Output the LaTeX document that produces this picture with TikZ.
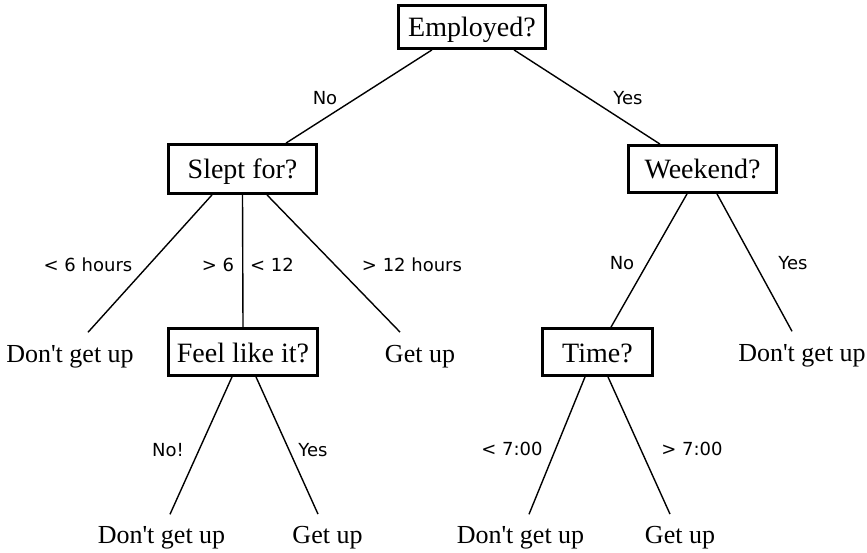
\documentclass[tikz,border=0pt]{standalone}
\usepackage{fontspec}
\setmainfont{Liberation Serif}
\newfontfamily\labelfont{DejaVu Sans}
\begin{document}
\begin{tikzpicture}[x=1pt,y=-1pt,
  qbox/.style={draw, line width=2.8pt, inner sep=0pt, text height=20pt, text depth=0pt,
    font=\fontsize{28}{30}\selectfont},
  leaf/.style={anchor=base, inner sep=0pt, font=\fontsize{26}{28}\selectfont},
  lab/.style={inner sep=0pt, font=\labelfont\fontsize{18}{20}\selectfont},
  branch/.style={line width=1.4pt}]
  \fill[white] (0,0) rectangle (867,553);
  \useasboundingbox (0,0) rectangle (867,553);

  % question boxes
  \node[qbox, minimum width=147pt, minimum height=43pt] (emp) at (472,27) {Employed?};
  \node[qbox, minimum width=148pt, minimum height=49pt] (slept) at (242.5,169) {Slept for?};
  \node[qbox, minimum width=148pt, minimum height=47pt] (week) at (702.5,169) {Weekend?};
  \node[qbox, minimum width=149pt, minimum height=47pt] (feel) at (243,352) {Feel like it?};
  \node[qbox, minimum width=110pt, minimum height=47pt] (time) at (597.5,352) {Time?};

  % outcomes
  \node[leaf] (l1) at (70,362) {Don\textquotesingle t get up};
  \node[leaf] (g1) at (420,362) {Get up};
  \node[leaf] (l2) at (802,361) {Don\textquotesingle t get up};
  \node[leaf] (l3) at (161.5,543) {Don\textquotesingle t get up};
  \node[leaf] (g2) at (327.5,543) {Get up};
  \node[leaf] (l4) at (520.5,543) {Don\textquotesingle t get up};
  \node[leaf] (g3) at (680,543) {Get up};

  % branches
  \draw[branch] ([xshift=-40pt]emp.south) -- ([xshift=43.5pt]slept.north);
  \draw[branch] ([xshift=42pt]emp.south) -- ([xshift=-42.5pt]week.north);
  \draw[branch] ([xshift=-30.5pt]slept.south) -- ([xshift=18pt,yshift=12.5pt]l1.north);
  \draw[branch] (slept.south) -- (feel.north);
  \draw[branch] ([xshift=24.5pt]slept.south) -- ([xshift=-20pt,yshift=12.5pt]g1.north);
  \draw[branch] ([xshift=-15.5pt]week.south) -- ([xshift=13.5pt]time.north);
  \draw[branch] ([xshift=14.5pt]week.south) -- ([xshift=-10pt,yshift=12.5pt]l2.north);
  \draw[branch] ([xshift=-11pt]feel.south) -- ([xshift=8.5pt,yshift=11.5pt]l3.north);
  \draw[branch] ([xshift=13pt]feel.south) -- ([xshift=-9.5pt,yshift=11.5pt]g2.north);
  \draw[branch] ([xshift=-12.5pt]time.south) -- ([xshift=8.5pt,yshift=11.5pt]l4.north);
  \draw[branch] ([xshift=10.5pt]time.south) -- ([xshift=-10pt,yshift=11.5pt]g3.north);

  % branch labels
  \node[lab] (a1) at (325,98) {No};
  \node[lab] (a2) at (628,98) {Yes};
  \node[lab] (b1) at (88,265) {< 6 hours};
  \node[lab] (b2) at (218,265) {> 6};
  \node[lab] (b3) at (272,265) {< 12};
  \node[lab] (b4) at (412,265) {> 12 hours};
  \node[lab] (c1) at (622,263) {No};
  \node[lab] (c2) at (793,263) {Yes};
  \node[lab] (d1) at (168,450) {No!};
  \node[lab] (d2) at (313,450) {Yes};
  \node[lab] (e1) at (512,449) {< 7:00};
  \node[lab] (e2) at (692,449) {> 7:00};
\end{tikzpicture}
\end{document}
